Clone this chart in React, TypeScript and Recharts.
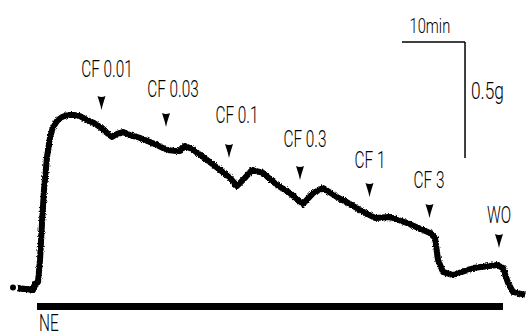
import React from 'react';
import { LineChart, Line, XAxis, YAxis, ReferenceLine, ReferenceDot } from 'recharts';

// Isometric tension record: time in min from NE addition, tension in g above baseline
const TIME_MIN = [
  -3.97, -3.17, -2.86, -2.06, -1.43, -0.79, -0.48, 0, 0.32, 0.63, 0.95, 1.43, 1.9, 2.38, 3.02,
  3.81, 4.76, 5.71, 6.67, 7.78, 8.89, 9.84, 10.79, 11.75, 12.54, 13.49, 14.6, 16.19, 17.78,
  18.89, 20.48, 21.75, 22.54, 23.33, 24.44, 26.19, 28.89, 30.48, 31.59, 32.54, 33.97, 35.71,
  37.94, 40.0, 42.06, 43.65, 45.24, 47.46, 49.52, 51.11, 53.49, 55.87, 58.57, 62.22, 63.02,
  63.49, 64.29, 65.87, 69.05, 72.86, 73.81, 74.6, 75.4, 77.3,
];
const TENSION_G = [
  0.002, 0.0, -0.002, -0.004, -0.006, -0.009, 0.017, 0.026, 0.121, 0.28, 0.422, 0.565, 0.647,
  0.694, 0.72, 0.737, 0.746, 0.746, 0.741, 0.724, 0.711, 0.694, 0.672, 0.651, 0.664, 0.672,
  0.659, 0.647, 0.629, 0.616, 0.595, 0.591, 0.591, 0.612, 0.599, 0.565, 0.509, 0.474, 0.44,
  0.466, 0.509, 0.496, 0.444, 0.409, 0.362, 0.409, 0.431, 0.392, 0.362, 0.336, 0.302, 0.306,
  0.28, 0.237, 0.216, 0.121, 0.069, 0.056, 0.086, 0.099, 0.086, 0.022, -0.017, -0.03,
];

// Drug additions (cumulative CF concentrations) and washout
const DRUG_LABELS = ['CF 0.01', 'CF 0.03', 'CF 0.1', 'CF 0.3', 'CF 1', 'CF 3', 'WO'];
const DRUG_TIMES = [10.08, 20.32, 30.32, 41.59, 52.62, 62.14, 73.17];
const ARROW_TIP_G = [0.767, 0.694, 0.56, 0.466, 0.392, 0.302, 0.172];
const LABEL_TIMES = [10.95, 21.43, 31.59, 42.38, 52.7, 62.06, 73.17];
const LABEL_G = [0.909, 0.823, 0.711, 0.608, 0.517, 0.431, 0.28];

// NE exposure bar
const NE_SPAN = [-0.16, 73.81];
const NE_LEVEL = -0.08;

// Calibration bars: 10 min x 0.5 g
const SCALE_TIME = [57.78, 67.78];
const SCALE_G = [0.56, 1.06];

const X_DOMAIN = [-6.032, 77.46];
const Y_DOMAIN = [-0.2026, 1.2414];

const data = TIME_MIN.map((t, i) => ({ t, g: TENSION_G[i] }));
// resting baseline before NE, drawn as its own stretch of the trace
const restData = data.filter((d) => d.t <= 0);

const FONT = 'Roboto, Lato, "Liberation Sans", sans-serif';

function NarrowText({ x, y, text, anchor = 'middle', size = 24, squeeze = 0.64 }: any) {
  if (x == null || y == null) return null;
  return (
    <g transform={`translate(${x},${y}) scale(${squeeze},1)`}>
      <text x={0} y={0} textAnchor={anchor} fontSize={size} fontFamily={FONT} fontWeight={300} fill="#000">
        {text}
      </text>
    </g>
  );
}

function Arrowhead({ cx, cy }: any) {
  if (cx == null || cy == null) return null;
  const d = `M ${cx - 4} ${cy - 14} Q ${cx} ${cy - 12} ${cx + 4} ${cy - 14} L ${cx + 1.2} ${cy - 5} L ${cx} ${cy} L ${cx - 1.2} ${cy - 5} Z`;
  return <path d={d} fill="#000" />;
}

export default function App() {
  return (
    <div style={{ position: 'fixed', left: 0, top: 0, width: 526, height: 335, background: '#fff' }}>
      <svg width={0} height={0} style={{ position: 'absolute' }}>
        <defs>
          <filter id="traceNoise" x="-10%" y="-20%" width="120%" height="140%">
            <feTurbulence type="fractalNoise" baseFrequency="1.2" numOctaves={1} seed={5} />
            <feDisplacementMap in="SourceGraphic" scale={4} xChannelSelector="R" yChannelSelector="G" />
          </filter>
        </defs>
      </svg>
      <LineChart width={526} height={335} data={data} margin={{ top: 0, right: 0, bottom: 0, left: 0 }}>
        <XAxis type="number" dataKey="t" domain={X_DOMAIN} hide />
        <YAxis type="number" domain={Y_DOMAIN} hide />

        <ReferenceLine
          segment={[{ x: NE_SPAN[0], y: NE_LEVEL }, { x: NE_SPAN[1], y: NE_LEVEL }]}
          stroke="#000"
          strokeWidth={7}
        />
        <ReferenceDot
          x={0.16}
          y={-0.186}
          r={0}
          shape={(p: any) => <NarrowText x={p.cx} y={p.cy} text="NE" anchor="start" />}
        />

        <ReferenceLine
          segment={[{ x: SCALE_TIME[0], y: SCALE_G[1] }, { x: SCALE_TIME[1], y: SCALE_G[1] }]}
          stroke="#000"
          strokeWidth={1.5}
        />
        <ReferenceLine
          segment={[{ x: SCALE_TIME[1], y: SCALE_G[1] }, { x: SCALE_TIME[1], y: SCALE_G[0] }]}
          stroke="#000"
          strokeWidth={1.5}
        />
        <ReferenceDot
          x={62.2}
          y={1.099}
          r={0}
          shape={(p: any) => <NarrowText x={p.cx} y={p.cy} text="10min" size={21} squeeze={0.7} />}
        />
        <ReferenceDot
          x={68.73}
          y={0.815}
          r={0}
          shape={(p: any) => <NarrowText x={p.cx} y={p.cy} text="0.5g" anchor="start" size={24} squeeze={0.72} />}
        />

        {DRUG_LABELS.map((label, i) => (
          <ReferenceDot
            key={`a-${label}`}
            x={DRUG_TIMES[i]}
            y={ARROW_TIP_G[i]}
            r={0}
            shape={(p: any) => <Arrowhead cx={p.cx} cy={p.cy} />}
          />
        ))}
        {DRUG_LABELS.map((label, i) => (
          <ReferenceDot
            key={`l-${label}`}
            x={LABEL_TIMES[i]}
            y={LABEL_G[i]}
            r={0}
            shape={(p: any) => <NarrowText x={p.cx} y={p.cy} text={label} />}
          />
        ))}

        {/* resting baseline, unfiltered so it stays solid */}
        <Line
          data={restData}
          dataKey="g"
          type="linear"
          stroke="#000"
          strokeWidth={6}
          strokeLinejoin="round"
          dot={false}
          activeDot={false}
          isAnimationActive={false}
        />
        {/* solid core of the trace */}
        <Line
          dataKey="g"
          type="linear"
          stroke="#000"
          strokeWidth={5}
          strokeLinejoin="round"
          dot={false}
          isAnimationActive={false}
        />
        {/* recorder noise on the trace edges */}
        <Line
          dataKey="g"
          type="linear"
          stroke="#000"
          strokeWidth={6}
          strokeLinejoin="round"
          dot={false}
          isAnimationActive={false}
          style={{ filter: 'url(#traceNoise)' }}
        />
      </LineChart>
    </div>
  );
}
